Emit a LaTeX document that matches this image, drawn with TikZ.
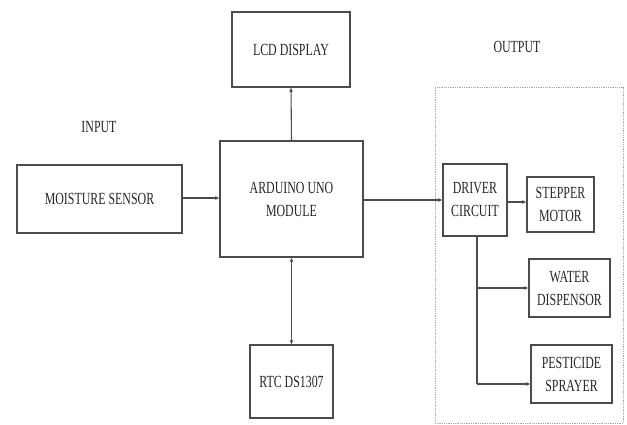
\documentclass[tikz,border=0pt]{standalone}
\usepackage{fontspec}
\setmainfont{Liberation Serif}[FakeStretch=0.7]
\usetikzlibrary{arrows.meta}
\begin{document}
\begin{tikzpicture}[x=1pt,y=-1pt,
  blk/.style={draw=black!70,line width=1.2pt,inner sep=0pt,align=center,
    font=\fontsize{17}{23}\selectfont,text=black!85},
  conn/.style={draw=black!70,line width=1.1pt,-{Latex[length=4pt,width=4pt]}},
  lbl/.style={font=\fontsize{17}{18}\selectfont,text=black!85}]
\useasboundingbox (0,0) rectangle (627,425);
\node[blk,minimum width=118,minimum height=75] (lcd) at (291,49.5) {LCD DISPLAY};
\node[blk,minimum width=165,minimum height=68] (ms) at (99.5,199) {MOISTURE SENSOR};
\node[blk,minimum width=143,minimum height=116] (ard) at (291.5,199) {ARDUINO UNO\\MODULE};
\node[blk,minimum width=83,minimum height=73] (rtc) at (291.5,381.5) {RTC DS1307};
\node[blk,minimum width=64,minimum height=72] (drv) at (475,200) {DRIVER\\CIRCUIT};
\node[blk,minimum width=67,minimum height=55] (stp) at (560.5,204.5) {STEPPER\\MOTOR};
\node[blk,minimum width=81,minimum height=58] (wat) at (569.5,288) {WATER\\DISPENSOR};
\node[blk,minimum width=81,minimum height=58] (pes) at (571.5,374) {PESTICIDE\\SPRAYER};
\node[lbl] (inp) at (99,127) {INPUT};
\node[lbl] (out) at (517,47) {OUTPUT};
\node[draw=black!35,densely dotted,line width=0.8pt,minimum width=188,minimum height=336,inner sep=0pt] (grp) at (529,255) {};
\draw[conn] (ms.east |- 0,198) -- (ard.west |- 0,198);
\draw[conn] (ard.north) -- (lcd.south);
\draw[conn,{Latex[length=4pt,width=4pt]}-{Latex[length=4pt,width=4pt]}] (ard.south) -- (rtc.north);
\draw[conn] (ard.east |- 0,200) -- (drv.west |- 0,200);
\draw[conn] (drv.east |- 0,202) -- (stp.west |- 0,202);
\coordinate (d0) at (477,236);
\draw[draw=black!70,line width=1.1pt] (d0) -- (477,384);
\draw[conn] (477,288) -- (wat.west |- 0,288);
\draw[conn] (477,384) -- (pes.west |- 0,384);
\end{tikzpicture}
\end{document}
